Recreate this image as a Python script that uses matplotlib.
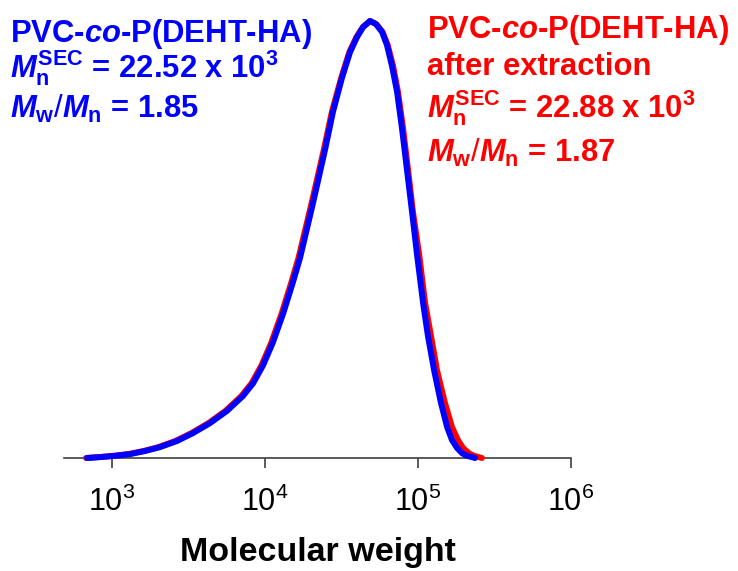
import matplotlib
matplotlib.use("Agg")
import matplotlib.pyplot as plt
import numpy as np

# SEC traces: log10(M) and normalised signal
LOGM_BEFORE = [2.837, 2.922, 3.020, 3.118, 3.216, 3.314, 3.425, 3.529, 3.641, 3.752,
               3.856, 3.922, 3.987, 4.052, 4.118, 4.183, 4.229, 4.314, 4.392, 4.444,
               4.503, 4.556, 4.601, 4.641, 4.686, 4.725, 4.765, 4.797, 4.830, 4.863,
               4.895, 4.928, 4.961, 4.993, 5.033, 5.065, 5.105, 5.150, 5.190, 5.222,
               5.255, 5.288, 5.320, 5.373]
SIG_BEFORE = [0.0, 0.002, 0.005, 0.009, 0.016, 0.025, 0.039, 0.057, 0.080, 0.108,
              0.142, 0.171, 0.212, 0.265, 0.330, 0.403, 0.458, 0.584, 0.705, 0.792,
              0.870, 0.929, 0.963, 0.986, 1.0, 0.993, 0.975, 0.945, 0.897, 0.838,
              0.755, 0.659, 0.563, 0.467, 0.355, 0.279, 0.201, 0.126, 0.071, 0.041,
              0.023, 0.011, 0.005, 0.0]

LOGM_AFTER = [2.830, 2.912, 3.010, 3.108, 3.206, 3.304, 3.415, 3.519, 3.631, 3.742,
              3.846, 3.912, 3.977, 4.042, 4.108, 4.173, 4.219, 4.305, 4.384, 4.437,
              4.498, 4.551, 4.597, 4.639, 4.686, 4.727, 4.768, 4.802, 4.837, 4.869,
              4.902, 4.935, 4.967, 5.007, 5.046, 5.085, 5.124, 5.176, 5.222, 5.261,
              5.294, 5.333, 5.366, 5.418]
SIG_AFTER = [0.0, 0.002, 0.005, 0.009, 0.016, 0.025, 0.039, 0.057, 0.080, 0.108,
             0.142, 0.171, 0.212, 0.265, 0.330, 0.403, 0.458, 0.584, 0.705, 0.792,
             0.870, 0.929, 0.963, 0.986, 1.0, 0.993, 0.975, 0.945, 0.897, 0.838,
             0.755, 0.659, 0.563, 0.467, 0.355, 0.279, 0.201, 0.126, 0.071, 0.041,
             0.023, 0.011, 0.005, 0.0]

TICKS = [1e3, 1e4, 1e5, 1e6]
TICK_LABELS = ["$10^{3}$", "$10^{4}$", "$10^{5}$", "$10^{6}$"]

BLUE = "#0000ff"
RED = "#ff0000"

plt.rcParams["font.family"] = ["Liberation Sans", "DejaVu Sans"]
plt.rcParams["mathtext.fontset"] = "custom"
plt.rcParams["mathtext.rm"] = "Liberation Sans"
plt.rcParams["mathtext.it"] = "Liberation Sans:italic:bold"
plt.rcParams["mathtext.bf"] = "Liberation Sans:bold"

W, H = 738, 571
fig = plt.figure(figsize=(W / 100, H / 100), dpi=100)

# axis line runs from x=64 to x=571 px, baseline at y=458 px
ax = fig.add_axes([64 / W, (H - 458) / H, (571 - 64) / W, 1.05 * 437 / H])

ax.plot(10 ** np.array(LOGM_AFTER), SIG_AFTER, color=RED, lw=4.3,
        solid_capstyle="round", solid_joinstyle="round", clip_on=False, zorder=3)
ax.plot(10 ** np.array(LOGM_BEFORE), SIG_BEFORE, color=BLUE, lw=4.3,
        solid_capstyle="round", solid_joinstyle="round", clip_on=False, zorder=4)

ax.set_xscale("log")
ax.set_xlim(10 ** 2.686, 1e6)
ax.set_ylim(0, 1.05)

for side in ["left", "top", "right"]:
    ax.spines[side].set_visible(False)
ax.spines["bottom"].set_color("#404040")
ax.spines["bottom"].set_linewidth(1.2)

ax.set_xticks(TICKS)
ax.set_xticklabels(TICK_LABELS)
ax.set_xticks([], minor=True)
ax.set_yticks([])
ax.tick_params(axis="x", direction="out", length=7, width=1.2, color="#404040",
               labelsize=22, pad=14)
ax.set_xlabel("Molecular weight", fontsize=24.5, fontweight="bold", labelpad=13)

# annotations, positions in pixels from top-left
def put(x, y, s, color):
    fig.text(x / W, 1 - y / H, s, color=color, fontsize=22.3, fontweight="bold",
             ha="left", va="baseline")

put(10, 42, r"PVC-$\mathit{co}$-P(DEHT-HA)", BLUE)
put(10, 77, r"$M_{\mathbf{n}}^{\mathbf{SEC}}$ = 22.52 x $\mathbf{10^{3}}$", BLUE)
put(10, 118, r"$M_{\mathbf{w}}\mathit{/}M_{\mathbf{n}}$ = 1.85", BLUE)

put(427, 38, r"PVC-$\mathit{co}$-P(DEHT-HA)", RED)
put(427, 75, "after extraction", RED)
put(427, 118, r"$M_{\mathbf{n}}^{\mathbf{SEC}}$ = 22.88 x $\mathbf{10^{3}}$", RED)
put(427, 162, r"$M_{\mathbf{w}}\mathit{/}M_{\mathbf{n}}$ = 1.87", RED)

fig.savefig("out.png", dpi=100)
